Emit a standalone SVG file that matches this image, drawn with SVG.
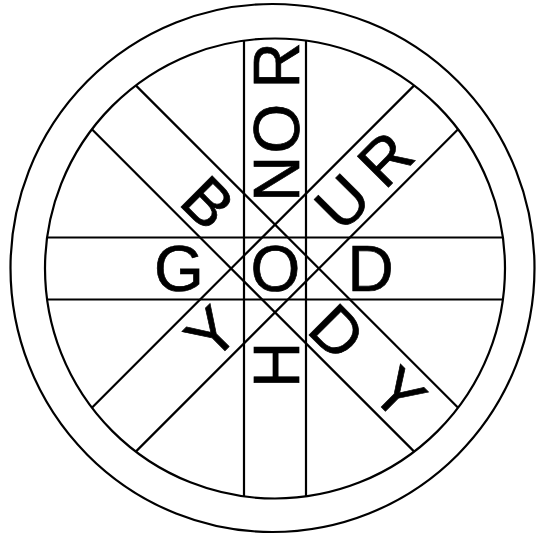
<svg xmlns="http://www.w3.org/2000/svg" width="536" height="536" viewBox="0 0 536 536">
<style>
.s{fill:none;stroke:#000;stroke-width:2.2}
.t{font-family:"Liberation Sans",Arial,sans-serif;font-size:64px;fill:#000;stroke:#000;stroke-width:0.7;text-anchor:middle}
</style>
<rect width="536" height="536" fill="#fff"/>
<g id="rings">
<ellipse class="s" cx="272.5" cy="268" rx="262" ry="264"/>
<circle class="s" cx="275" cy="268.5" r="230"/>
</g>
<g id="bands">
<line class="s" x1="244" y1="40.6" x2="244" y2="496.4"/>
<line class="s" x1="306" y1="40.6" x2="306" y2="496.4"/>
<line class="s" x1="47.1" y1="237.5" x2="502.9" y2="237.5"/>
<line class="s" x1="47.1" y1="299.5" x2="502.9" y2="299.5"/>
<line class="s" x1="135.8" y1="85.4" x2="458.1" y2="407.7"/>
<line class="s" x1="91.9" y1="129.3" x2="414.2" y2="451.6"/>
<line class="s" x1="458.1" y1="129.3" x2="135.8" y2="451.6"/>
<line class="s" x1="414.2" y1="85.4" x2="91.9" y2="407.7"/>
</g>
<g id="god">
<text class="t" transform="translate(179,268.5)" y="22.9">G</text>
<text class="t" transform="translate(275.5,268.5)" y="22.9">O</text>
<text class="t" transform="translate(370.5,268.5)" y="22.9">D</text>
</g>
<g id="honor">
<text class="t" transform="translate(276,365) rotate(-90)" y="22.9">H</text>
<text class="t" transform="translate(276,179) rotate(-90)" y="22.9">N</text>
<text class="t" transform="translate(276,128.5) rotate(-90)" y="22.9">O</text>
<text class="t" transform="translate(276,65.4) rotate(-90)" y="22.9">R</text>
</g>
<g id="body">
<text class="t" transform="translate(208.6,202.1) rotate(45)" y="22.9">B</text>
<text class="t" transform="translate(337.9,331.4) rotate(45)" y="22.9">D</text>
<text class="t" transform="translate(399.5,393) rotate(45)" y="22.9">Y</text>
</g>
<g id="your">
<text class="t" transform="translate(211,332.5) rotate(-45)" y="22.9">Y</text>
<text class="t" transform="translate(342,201.5) rotate(-45)" y="22.9">U</text>
<text class="t" transform="translate(385,158.5) rotate(-45)" y="22.9">R</text>
</g>
</svg>
